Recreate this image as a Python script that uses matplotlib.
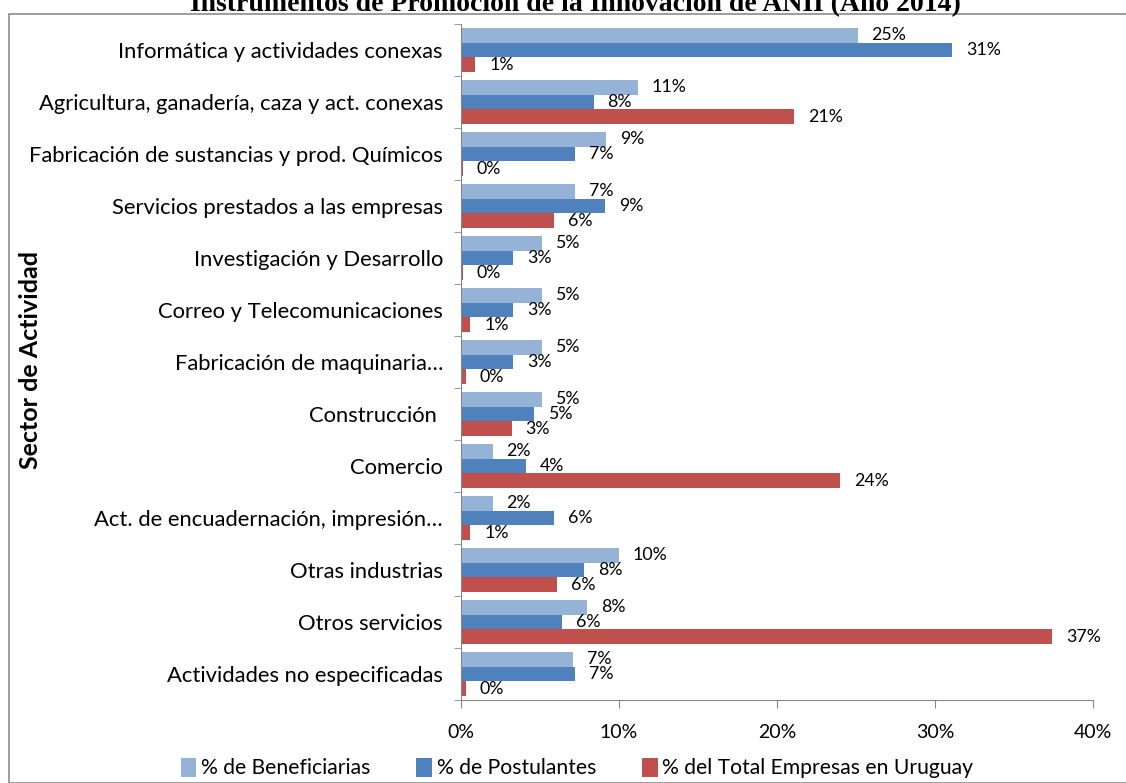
import numpy as np
import matplotlib
matplotlib.use('Agg')
import matplotlib.pyplot as plt
from matplotlib.patches import Rectangle

# Datos por sector de actividad (porcentajes)
sectores = [
    'Informática y actividades conexas',
    'Agricultura, ganadería, caza y act. conexas',
    'Fabricación de sustancias y prod. Químicos',
    'Servicios prestados a las empresas',
    'Investigación y Desarrollo',
    'Correo y Telecomunicaciones',
    'Fabricación de maquinaria…',
    'Construcción ',
    'Comercio',
    'Act. de encuadernación, impresión…',
    'Otras industrias',
    'Otros servicios',
    'Actividades no especificadas',
]
beneficiarias = [25.1, 11.2, 9.2, 7.2, 5.1, 5.1, 5.1, 5.1, 2.0, 2.0, 10.0, 8.0, 7.1]
postulantes = [31.1, 8.4, 7.2, 9.1, 3.3, 3.3, 3.3, 4.6, 4.1, 5.9, 7.8, 6.4, 7.2]
total_uruguay = [0.9, 21.1, 0.1, 5.9, 0.1, 0.6, 0.3, 3.2, 24.0, 0.6, 6.1, 37.4, 0.3]

series = ['% de Beneficiarias', '% de Postulantes', '% del Total Empresas en Uruguay']
colores = ['#95B3D7', '#4F81BD', '#C0504D']
xticks = [0, 10, 20, 30, 40]

plt.rcParams['font.family'] = ['Lato', 'DejaVu Sans']

fig = plt.figure(figsize=(11.26, 7.83), dpi=100)
W, H = 1126, 783

# marco del gráfico
fig.patches.append(Rectangle((9 / W, 0), 1.0, 1 - 14 / H, transform=fig.transFigure,
                             fill=False, edgecolor='#8c8c8c', linewidth=1.2))

fig.text(575 / W, 1 - 11 / H,
         'Instrumentos de Promoción de la Innovación de ANII (Año 2014)',
         family='Liberation Serif', fontweight='bold', fontsize=20,
         ha='center', va='baseline')

ax = fig.add_axes([461 / W, 1 - 700 / H, (1093 - 461) / W, (700 - 24) / H])

y = np.arange(len(sectores))
alto = 0.28
valores = [beneficiarias, postulantes, total_uruguay]
for i, (vals, nombre, color) in enumerate(zip(valores, series, colores)):
    pos = y + (i - 1) * alto
    ax.barh(pos, vals, height=alto, color=color, label=nombre)
    for p, v in zip(pos, vals):
        ax.annotate(f'{v:.0f}%', (v, p), xytext=(10, 0), textcoords='offset points',
                    ha='left', va='center', fontsize=12.8)

ax.set_ylim(len(sectores) - 0.5, -0.5)
ax.set_xlim(0, 40)
ax.set_yticks(y)
ax.set_yticklabels(sectores, fontsize=15.8)
ax.set_yticks(np.arange(len(sectores) + 1) - 0.5, minor=True)
ax.tick_params(axis='y', which='major', length=0, pad=13)
ax.tick_params(axis='y', which='minor', length=5, color='#868686')
ax.set_xticks(xticks)
ax.set_xticklabels([f'{t}%' for t in xticks], fontsize=14)
ax.tick_params(axis='x', length=6, color='#868686', pad=11)

for lado in ['top', 'right']:
    ax.spines[lado].set_visible(False)
for lado in ['left', 'bottom']:
    ax.spines[lado].set_color('#868686')

fig.text(31 / W, 1 - 360 / H, 'Sector de Actividad', rotation=90,
         fontsize=18, fontweight='bold', ha='center', va='center')

fig.legend(loc='center', bbox_to_anchor=(577 / W, 1 - 768 / H), ncol=3,
           frameon=False, fontsize=15.2, handlelength=0.75, handleheight=1.0,
           handletextpad=0.2, columnspacing=2.2)

fig.savefig('out.png', dpi=100)
plt.close(fig)
